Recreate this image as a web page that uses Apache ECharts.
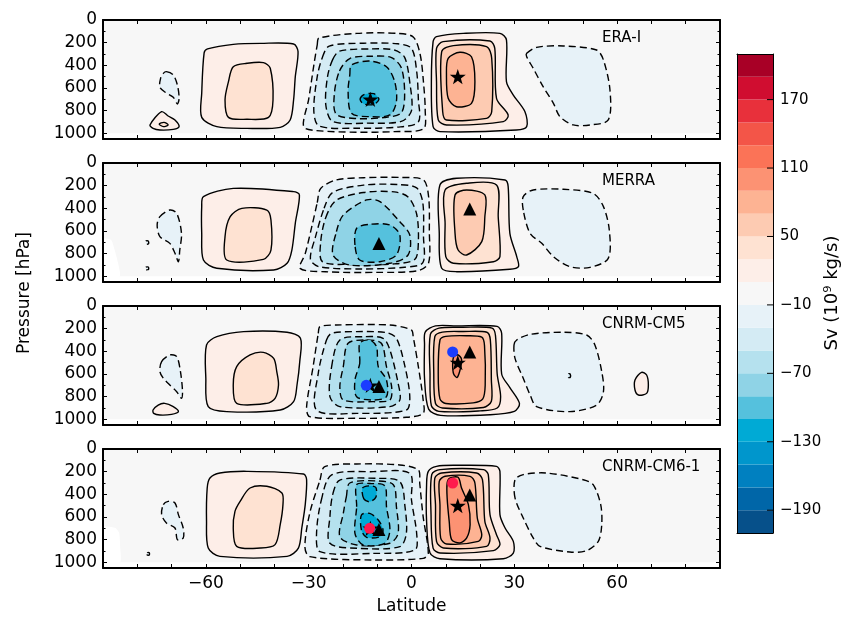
<!DOCTYPE html>
<html>
<head>
<meta charset="utf-8">
<script src="https://cdn.jsdelivr.net/npm/echarts/dist/echarts.min.js"></script>
<style>
  html, body { margin: 0; padding: 0; background: #ffffff; }
  #chart { width: 845px; height: 617px; }
</style>
</head>
<body>
<div id="chart"></div>
<script>
// ---- axis values -------------------------------------------------------
const latTicks = [-60, -30, 0, 30, 60];
const pressureTicks = [0, 200, 400, 600, 800, 1000];
const latRange = [-90, 90];
const pressureRange = [0, 1050];
const domainLat = [-90, 90];
const domainP = [0, 1000];

// ---- colour scale (Sv, 10^9 kg/s) ---------------------------------------
const cbBounds = [-210, -190, -170, -150, -130, -110, -90, -70, -50, -30, -10,
                  10, 30, 50, 70, 90, 110, 130, 150, 170, 190, 210];
const cbColors = ['#06508a', '#0066a8', '#0080c0', '#0096cc', '#00aad5',
                  '#55c1dd', '#8fd3e6', '#b5e1ee', '#d4ebf4', '#e7f2f8',
                  '#f7f7f7',
                  '#fdeee8', '#fee2d2', '#fdcbb2', '#fdb393', '#fc9273',
                  '#fb7357', '#f35548', '#e8303b', '#d00d30', '#a80026'];
const cbTicks = [-190, -130, -70, -10, 50, 110, 170];

const panelNames = ['ERA-I', 'MERRA', 'CNRM-CM5', 'CNRM-CM6-1'];

// ---- streamfunction isolines: [level, [[lat, p], ...]] -------------------
const eraiContours = [
  [-10, [[-71.5,456],[-69.5,485],[-68.3,574],[-67.8,691],[-68.3,741],[-69.5,682],[-71.7,641],[-73.4,594],[-73.2,515],[-72.4,471]]],
  [10, [[-76.3,926],[-72.9,809],[-71,847],[-69,882],[-67.8,941],[-69.5,965],[-73.4,971],[-75.4,956]]],
  [30, [[-73.6,918],[-72.2,903],[-71,926],[-72.4,941]]],
  [10, [[-60.5,290],[-59.5,255],[-52,215],[-44,206],[-34.4,212],[-33.1,279],[-33.9,500],[-34.4,706],[-35.4,882],[-38.3,947],[-48,956],[-56.8,941],[-61.2,859],[-61.2,647]]],
  [30, [[-53.4,544],[-52,412],[-48,382],[-43.2,376],[-41.2,426],[-40.4,706],[-41.7,859],[-48,876],[-53.4,859],[-54.4,706]]],
  [-10, [[-27.5,220],[-27,160],[-16,118],[-4,118],[0.5,150],[2.5,300],[3.5,550],[4,800],[3.5,960],[-5,985],[-16,990],[-28,975],[-31.5,940],[-30,700],[-28.5,400]]],
  [-30, [[-26,330],[-24,230],[-14,205],[-4,210],[0,250],[1.5,450],[2,700],[2,900],[-4,945],[-16,955],[-27,935],[-28.5,800],[-27.5,500]]],
  [-50, [[-23,350],[-21,275],[-12,255],[-5,265],[-2,330],[-0.5,550],[0,800],[-3,895],[-13,910],[-23,895],[-25,750],[-24.5,500]]],
  [-70, [[-21,450],[-18,340],[-12,320],[-6,330],[-3,420],[-2,650],[-3,820],[-8,860],[-16,870],[-22,830],[-22.5,650]]],
  [-90, [[-18,485],[-17.5,397],[-12.2,362],[-7.3,412],[-4.9,544],[-4.4,720],[-6.3,838],[-12.2,853],[-17.5,823],[-18.5,632]]],
  [-110, [[-15,700],[-14,660],[-11,650],[-9.5,700],[-11,745],[-14,740]]],
  [10, [[5.8,544],[6.3,191],[7.3,147],[15.1,118],[25.8,118],[27.7,176],[27.7,544],[29.7,662],[33.1,809],[33.6,941],[30.6,971],[8.3,985],[6.3,941]]],
  [30, [[7.3,544],[7.3,250],[9.2,191],[22.9,185],[24.3,250],[24.8,691],[28.2,838],[26.8,897],[10.2,926],[7.8,882]]],
  [50, [[9.1,809],[8.8,279],[12.2,226],[21.9,235],[23.4,338],[23.4,809],[21.9,868],[10.2,882]]],
  [70, [[10.2,485],[10.7,338],[14.1,285],[17.5,324],[18.5,544],[17.5,735],[13.1,765],[10.7,691]]],
  [-10, [[33.6,294],[36.5,241],[44.3,229],[54,265],[56,353],[57.9,618],[57.4,882],[52.1,926],[47.2,926],[43.3,853],[41.4,735],[38.4,588],[35.5,426],[33.6,324]]]
];

const merraContours = [
  [-10, [[-73.4,473],[-70.5,415],[-68.5,444],[-67.1,621],[-67.6,768],[-68,871],[-69,797],[-70.5,709],[-73.4,650],[-74.2,547]]],
  [-10, [[-77.5,690],[-76.8,688],[-76.7,712],[-77.4,716]]],
  [-10, [[-77.5,920],[-76.8,918],[-76.7,938],[-77.4,940]]],
  [10, [[-61.2,385],[-60.7,297],[-52,224],[-34.4,253],[-32.7,282],[-33.9,532],[-34.9,768],[-36.3,885],[-40.2,944],[-56.8,929],[-60.7,856],[-61.2,621]]],
  [30, [[-54.4,650],[-52.9,474],[-49.5,400],[-42.2,415],[-41,503],[-41,768],[-43.2,850],[-53.9,856]]],
  [-10, [[-27.5,350],[-26.5,225],[-22,150],[-14,130],[-3,128],[3.5,150],[5,300],[5.2,600],[5,880],[2,950],[-10,965],[-25,960],[-32.5,930],[-31,800],[-29,550]]],
  [-30, [[-25.5,400],[-23,260],[-14,195],[-4,190],[1.5,220],[3.3,350],[3.5,650],[3.3,880],[-2,920],[-15,935],[-27,915],[-29.5,850],[-28,650]]],
  [-50, [[-25,480],[-22,330],[-14,260],[-5,255],[-1,300],[1.5,450],[2,700],[1,850],[-5,890],[-18,895],[-26,870],[-26.5,700]]],
  [-70, [[-21.9,606],[-19.9,459],[-13.1,326],[-9.2,341],[-3.4,518],[-0.5,635],[-1,812],[-6.3,885],[-18,900],[-22.9,812]]],
  [-90, [[-16.5,724],[-16,576],[-12.2,541],[-6.3,547],[-3.4,635],[-4.4,812],[-9.2,871],[-15.1,856]]],
  [10, [[8.1,621],[8.3,194],[13.2,135],[27.3,150],[28.2,209],[28.7,621],[30.7,826],[31.2,915],[28.7,938],[13.2,959],[8.8,929]]],
  [30, [[9.8,532],[9.8,238],[16.1,179],[24.8,194],[25.3,474],[25.8,826],[23.9,871],[12.2,885],[10,826]]],
  [50, [[12.7,621],[12.7,282],[16.1,238],[21.4,282],[21.4,474],[20.5,694],[16.1,812],[13.6,768]]],
  [-10, [[32.6,415],[32.6,297],[35.5,238],[44.3,232],[53,268],[56,385],[57.7,591],[57.4,841],[52.1,921],[46.2,915],[41.4,826],[38,709],[34.6,621]]]
];

const cm5Contours = [
  [-10, [[-72.9,491],[-70.5,432],[-68.5,447],[-67.4,579],[-66.8,756],[-67.1,815],[-68.5,756],[-70.5,697],[-72.4,638],[-73.4,579]]],
  [10, [[-75.4,918],[-73.9,874],[-72,859],[-69.5,888],[-68,932],[-70,956],[-73.4,962],[-75.2,947]]],
  [10, [[-60,638],[-59.8,344],[-56.8,271],[-49,226],[-36.3,232],[-32.4,285],[-32.6,491],[-33.4,697],[-34.4,844],[-38.3,918],[-53.9,932],[-59.3,888]]],
  [30, [[-52,697],[-51,535],[-47.1,432],[-43.2,409],[-40.2,462],[-39.3,579],[-38.8,697],[-39.8,815],[-42.2,859],[-51,859]]],
  [-10, [[-27.2,241],[-26.7,182],[-21.9,168],[-6.3,168],[0,212],[0.5,271],[2,535],[3.4,829],[3.4,947],[-1.5,982],[-16,991],[-29.7,976],[-30.6,888],[-28.7,535]]],
  [-30, [[-24.8,300],[-23.3,241],[-16,226],[-7.3,235],[-4.4,285],[-1.9,535],[-0.5,800],[-1.5,918],[-16,947],[-27.7,918],[-27.2,594]]],
  [-50, [[-23.3,535],[-20.9,300],[-14.1,271],[-8.3,285],[-6.3,388],[-3.9,682],[-3.4,829],[-6.3,888],[-20.9,888],[-23.8,800]]],
  [-70, [[-19.9,535],[-18.5,329],[-13.1,300],[-8.8,329],[-7.3,535],[-5.8,712],[-6.3,829],[-11.2,844],[-19.9,829],[-20.9,712]]],
  [-90, [[-15.1,506],[-15.1,329],[-12.2,300],[-10.2,359],[-9.7,535],[-7.3,653],[-7.3,800],[-11.2,829],[-16,800],[-16.5,653]]],
  [10, [[3.8,640],[3.8,340],[4,230],[7,175],[13,175],[25,180],[26.3,240],[26.3,600],[28.7,720],[31.5,860],[30,930],[23,960],[8.5,965],[5,910]]],
  [30, [[5.4,600],[5.5,250],[8,195],[15,188],[23.5,195],[24.5,260],[25,600],[26,800],[25,900],[20,925],[8,930],[5.8,880]]],
  [50, [[6.5,600],[6.8,270],[9,230],[15,225],[22,232],[23,300],[23.3,650],[23.3,840],[21,895],[9,900],[7,860]]],
  [70, [[7.8,600],[8.3,300],[10,268],[16,262],[20.5,275],[21.3,350],[21.5,700],[20.8,820],[18,855],[10,860],[8.3,820]]],
  [90, [[12,520],[12.3,450],[13.5,430],[14.6,470],[14.2,560],[13.3,630],[12.3,600]]],
  [-10, [[29.9,344],[30.7,300],[34.6,250],[44.3,232],[51.1,256],[53.5,344],[55.5,579],[56,756],[54,874],[46.2,932],[36.5,888],[34.6,785],[32.6,638],[30.2,462]]],
  [-30, [[45.8,600],[46.3,600],[46.3,630],[45.8,630]]],
  [10, [[65.2,653],[67.1,585],[68.6,609],[69.1,697],[68.6,771],[66.2,785],[65.2,741]]]
];

const cm6Contours = [
  [-10, [[-72.4,491],[-71,462],[-69,476],[-68,579],[-66.6,697],[-66.6,785],[-68.3,800],[-69,697],[-71.5,653],[-72.9,579]]],
  [-10, [[-77.1,915],[-76.5,915],[-76.5,935],[-77.1,935]]],
  [10, [[-59.8,638],[-59.6,344],[-58.8,256],[-55.9,212],[-48,197],[-31.5,221],[-30.6,271],[-31,491],[-32,697],[-33,874],[-36.3,947],[-55.9,947],[-59.3,874]]],
  [30, [[-51.5,550],[-50,462],[-47.1,344],[-42.2,329],[-37.8,388],[-37.5,491],[-38.3,668],[-39.8,844],[-44.1,874],[-51,859],[-52,697]]],
  [-10, [[-26.7,274],[-25.3,156],[-16,132],[-3.4,141],[2,185],[2.4,303],[3.4,597],[4.9,921],[3.4,965],[-11.2,979],[-29.7,950],[-31.1,862],[-29.7,568]]],
  [-30, [[-26.3,450],[-23.3,229],[-11.2,200],[-0.5,215],[0,450],[1.5,744],[1,891],[-11.2,921],[-26.7,906],[-27.7,744]]],
  [-50, [[-22.9,391],[-20.9,274],[-10.2,259],[-3.4,288],[-1.9,509],[-1.5,744],[-3.4,862],[-16,876],[-23.8,832],[-23.8,597]]],
  [-70, [[-19,421],[-18,300],[-10.2,282],[-5.3,315],[-4.4,509],[-3.9,744],[-6.3,832],[-16,847],[-20.9,774],[-19.9,568]]],
  [-90, [[-16,509],[-16,315],[-12.2,305],[-7.8,325],[-7.3,509],[-6.3,715],[-7.8,832],[-14.1,847],[-16.5,744]]],
  [-110, [[-13.9,440],[-14.3,345],[-12.2,325],[-10.4,340],[-10.4,425],[-12.2,465]]],
  [-110, [[-14.6,715],[-14.6,582],[-12.2,568],[-9.7,626],[-8.3,715],[-9.2,774],[-13.1,779]]],
  [10, [[4.4,638],[4.4,315],[4.9,197],[7.3,153],[13.2,144],[24.8,153],[25.8,197],[25.8,579],[27.3,697],[29.7,815],[29.7,918],[26.8,968],[8.3,968],[5.4,918]]],
  [30, [[5.7,579],[5.9,226],[8.3,182],[21,182],[22.4,226],[22.9,579],[24.8,756],[25.8,844],[23.9,897],[8.3,918],[6.3,874]]],
  [50, [[7,491],[6.8,256],[8.8,212],[19,212],[20.7,271],[21.4,638],[22.9,785],[21.9,859],[9.3,874],[7.3,815]]],
  [70, [[8.3,491],[8.1,285],[9.8,241],[17.1,241],[18.5,300],[19.2,609],[20.5,756],[19.5,815],[10.2,838],[8.5,785]]],
  [90, [[10.4,432],[10.4,300],[11.2,256],[13.6,250],[14.6,344],[16.6,491],[17.1,668],[16.1,785],[14.1,829],[11.7,800],[11,638]]],
  [-10, [[30.2,432],[30.2,271],[32.6,226],[39.4,212],[50.1,271],[53,315],[55.2,491],[55.5,668],[54.5,815],[51.1,897],[46.2,909],[37.5,859],[35.5,785],[32.6,609]]]
];

// areas below the surface (no data), [lat, p]
const merraMask = [[-90,670],[-87.6,679],[-86.6,768],[-85.6,885],[-85.1,1000],[-90,1000]];
const cm6Mask = [[-90,690],[-86.5,695],[-85.3,740],[-85,860],[-85,1000],[-90,1000]];

// cell maxima [lat, p]
const eraiMax = [[-12, 700], [13.5, 500]];
const merraMax = [[-9.5, 710], [17, 405]];
const cm5Max = [[-13.2, 700], [12, 405]];
const cm6Max = [[-12.2, 700], [12, 300]];

// ---- layout -------------------------------------------------------------
const FONT = 'DejaVu Sans';
const panelTops = [20, 163, 306, 449];
const panelLeft = 103, panelWidth = 617, panelHeight = 119;
const cbBox = { left: 737, top: 54, width: 36, height: 479 };

const STAR = 'path://M50,0 L61.8,35.1 L98.9,35.1 L69,57.4 L79.4,92.7 L50,71 L20.6,92.7 L31,57.4 L1.1,35.1 L38.2,35.1 Z';

function fmtNum(v) { return v < 0 ? '\u2212' + (-v) : String(v); }

function levelColor(level) {
  const lower = level > 0 ? level : level - 20;
  const idx = cbBounds.indexOf(lower);
  return cbColors[idx];
}

const grid = [], xAxis = [], yAxis = [], series = [];

panelTops.forEach((top, i) => {
  grid.push({ left: panelLeft, top: top, width: panelWidth, height: panelHeight });
  const last = i === panelTops.length - 1;
  const xBase = {
    gridIndex: i, type: 'value', min: latRange[0], max: latRange[1], interval: 30,
    splitLine: { show: false }, z: 10,
    axisLine: { show: true, onZero: false, lineStyle: { color: '#000', width: 2 } },
    axisTick: { show: true, inside: true, length: 4, lineStyle: { color: '#000', width: 1 } },
    minorTick: { show: true, splitNumber: 3, length: 4, lineStyle: { color: '#000', width: 1 } }
  };
  xAxis.push(Object.assign({}, xBase, {
    position: 'bottom',
    axisLabel: {
      show: last, color: '#000', fontSize: 17, fontFamily: FONT, margin: 7,
      formatter: v => latTicks.includes(v) ? fmtNum(v) : ''
    }
  }));
  xAxis.push(Object.assign({}, xBase, { position: 'top', axisLabel: { show: false } }));

  const yBase = {
    gridIndex: i, type: 'value', inverse: true, min: pressureRange[0], max: pressureRange[1], interval: 200,
    splitLine: { show: false }, z: 10,
    axisLine: { show: true, onZero: false, lineStyle: { color: '#000', width: 2 } },
    axisTick: { show: true, inside: true, length: 4, lineStyle: { color: '#000', width: 1 } },
    minorTick: { show: true, splitNumber: 2, length: 2.5, lineStyle: { color: '#000', width: 1 } }
  };
  yAxis.push(Object.assign({}, yBase, {
    position: 'left',
    axisLabel: {
      color: '#000', fontSize: 17, fontFamily: FONT, margin: 6,
      formatter: v => pressureTicks.includes(v) ? String(v) : ''
    }
  }));
  yAxis.push(Object.assign({}, yBase, { position: 'right', axisLabel: { show: false } }));
});

// colour bar axes
grid.push({ left: cbBox.left, top: cbBox.top, width: cbBox.width, height: cbBox.height });
const cbX = { gridIndex: 4, type: 'value', min: 0, max: 1, splitLine: { show: false }, z: 10,
  axisLine: { show: true, onZero: false, lineStyle: { color: '#000', width: 1 } },
  axisTick: { show: false }, axisLabel: { show: false } };
const cbY = { gridIndex: 4, type: 'value', min: cbBounds[0], max: cbBounds[cbBounds.length - 1],
  splitLine: { show: false }, z: 10,
  axisLine: { show: true, onZero: false, lineStyle: { color: '#000', width: 1 } },
  axisTick: { show: false }, axisLabel: { show: false } };
xAxis.push(Object.assign({}, cbX, { position: 'bottom' }), Object.assign({}, cbX, { position: 'top' }));
yAxis.push(Object.assign({}, cbY, { position: 'left' }), Object.assign({}, cbY, { position: 'right' }));

// ---- series builders ----------------------------------------------------
function domainSeries(i) {
  return {
    type: 'custom', xAxisIndex: 2 * i, yAxisIndex: 2 * i, silent: true, z: 2,
    data: [[domainLat[0], domainP[0]]],
    renderItem: (params, api) => {
      const a = api.coord([domainLat[0], domainP[0]]);
      const b = api.coord([domainLat[1], domainP[1]]);
      return { type: 'rect', shape: { x: a[0], y: a[1], width: b[0] - a[0], height: b[1] - a[1] },
               style: { fill: cbColors[10] } };
    }
  };
}

function maskSeries(i, mask) {
  return {
    type: 'custom', xAxisIndex: 2 * i, yAxisIndex: 2 * i, silent: true, z: 2,
    data: [mask[0]],
    renderItem: (params, api) => ({
      type: 'polygon', shape: { points: mask.map(p => api.coord(p)), smooth: 0.2 },
      style: { fill: '#ffffff' }
    })
  };
}

function contourSeries(i, contours) {
  const sorted = contours.slice().sort((a, b) => Math.abs(a[0]) - Math.abs(b[0]));
  return {
    type: 'custom', xAxisIndex: 2 * i, yAxisIndex: 2 * i, silent: true, z: 2,
    data: sorted.map(c => c[1][0]),
    renderItem: (params, api) => {
      const c = sorted[params.dataIndex];
      const pts = c[1].map(p => api.coord(p));
      return {
        type: 'polygon',
        shape: { points: pts, smooth: 0.3 },
        style: { fill: levelColor(c[0]), stroke: '#000', lineWidth: 1.4,
                 lineDash: c[0] < 0 ? [7, 4] : null }
      };
    }
  };
}

function markerSeries(i, data, symbol, size, color) {
  return {
    type: 'scatter', xAxisIndex: 2 * i, yAxisIndex: 2 * i, silent: true, z: 3,
    symbol: symbol, symbolSize: size, symbolKeepAspect: true,
    itemStyle: { color: color, opacity: 1 }, data: data
  };
}

const contourSets = [eraiContours, merraContours, cm5Contours, cm6Contours];
const masks = [null, merraMask, null, cm6Mask];

contourSets.forEach((set, i) => {
  series.push(domainSeries(i));
  if (masks[i]) series.push(maskSeries(i, masks[i]));
  series.push(contourSeries(i, set));
});

// maxima of each panel's cells
series.push(markerSeries(0, eraiMax, STAR, 16, '#000'));
series.push(markerSeries(1, merraMax, 'triangle', 13, '#000'));
series.push(markerSeries(2, eraiMax, STAR, 16, '#000'));
series.push(markerSeries(2, merraMax, 'triangle', 13, '#000'));
series.push(markerSeries(2, cm5Max, 'circle', 11, '#1a3cff'));
series.push(markerSeries(3, eraiMax, STAR, 16, '#000'));
series.push(markerSeries(3, merraMax, 'triangle', 13, '#000'));
series.push(markerSeries(3, cm6Max, 'circle', 11, '#ff1a4d'));

// colour bar bands
series.push({
  type: 'custom', xAxisIndex: 8, yAxisIndex: 8, silent: true, z: 2,
  data: cbColors.map((c, k) => [0, cbBounds[k]]),
  renderItem: (params, api) => {
    const k = params.dataIndex;
    const a = api.coord([0, cbBounds[k + 1]]);
    const b = api.coord([1, cbBounds[k]]);
    return { type: 'rect', shape: { x: a[0], y: a[1], width: b[0] - a[0], height: b[1] - a[1] },
             style: { fill: cbColors[k] } };
  }
});
// colour bar ticks and labels
series.push({
  type: 'custom', xAxisIndex: 8, yAxisIndex: 8, silent: true, z: 12,
  data: cbTicks.map(v => [1, v]),
  renderItem: (params, api) => {
    const v = cbTicks[params.dataIndex];
    const p = api.coord([1, v]);
    return {
      type: 'group',
      children: [
        { type: 'line', shape: { x1: p[0] - 6, y1: p[1], x2: p[0], y2: p[1] },
          style: { stroke: '#000', lineWidth: 1 } },
        { type: 'text', x: p[0] + 7, y: p[1],
          style: { text: fmtNum(v), fill: '#000', font: '15px "' + FONT + '"',
                   align: 'left', verticalAlign: 'middle', textAlign: 'left', textVerticalAlign: 'middle' } }
      ]
    };
  }
});

// ---- titles and panel names ----------------------------------------------
const graphic = [];
panelNames.forEach((name, i) => {
  graphic.push({ type: 'text', x: 602, y: panelTops[i] + 18, z: 20,
    style: { text: name, fill: '#000', font: '15px "' + FONT + '"',
             align: 'left', verticalAlign: 'middle', textAlign: 'left', textVerticalAlign: 'middle' } });
});
graphic.push({ type: 'text', x: 411.5, y: 607, z: 20,
  style: { text: 'Latitude', fill: '#000', font: '17px "' + FONT + '"',
           align: 'center', verticalAlign: 'middle', textAlign: 'center', textVerticalAlign: 'middle' } });
graphic.push({ type: 'text', x: 25, y: 293, rotation: Math.PI / 2, z: 20,
  style: { text: 'Pressure [hPa]', fill: '#000', font: '17px "' + FONT + '"',
           align: 'center', verticalAlign: 'middle', textAlign: 'center', textVerticalAlign: 'middle' } });
graphic.push({ type: 'text', x: 832, y: 293, rotation: Math.PI / 2, z: 20,
  style: { text: 'Sv (10\u2079 kg/s)', fill: '#000', font: '18px "' + FONT + '"',
           align: 'center', verticalAlign: 'middle', textAlign: 'center', textVerticalAlign: 'middle' } });

const chart = echarts.init(document.getElementById('chart'), null, { renderer: 'canvas', width: 845, height: 617 });
chart.setOption({
  animation: false,
  backgroundColor: '#ffffff',
  grid: grid, xAxis: xAxis, yAxis: yAxis, series: series, graphic: graphic
});
</script>
</body>
</html>
